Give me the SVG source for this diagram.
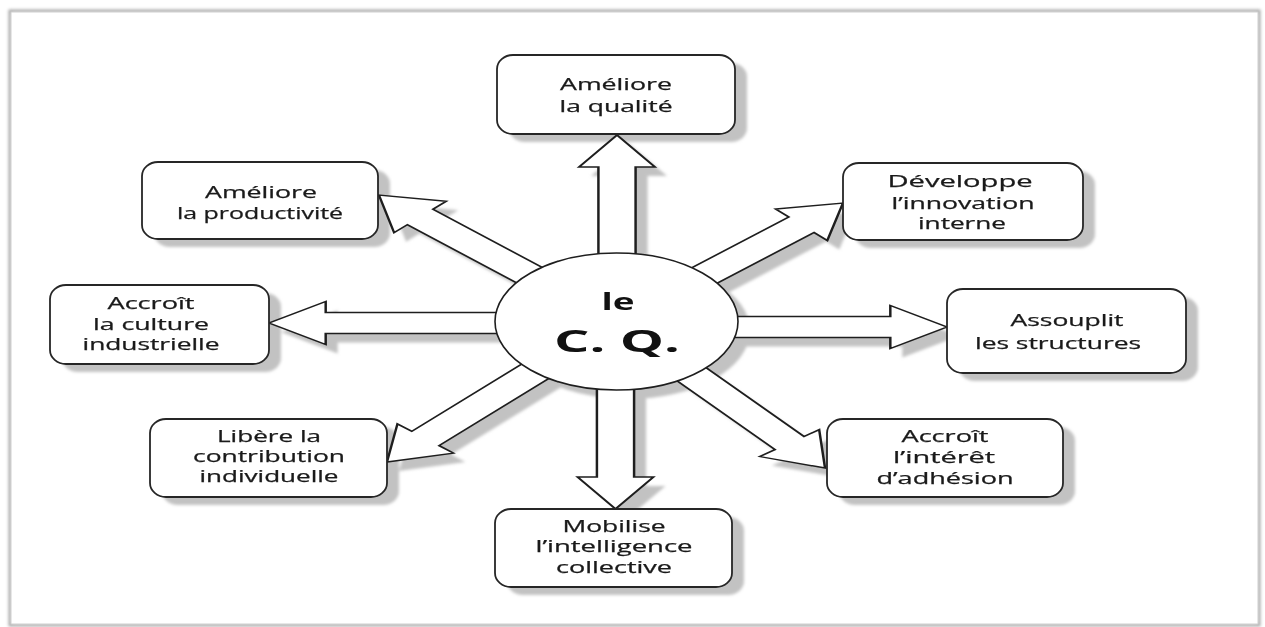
<svg xmlns="http://www.w3.org/2000/svg" width="1265" height="627" viewBox="0 0 1265 627">
  <defs>
    <filter id="soft" x="-5%" y="-5%" width="110%" height="110%">
      <feGaussianBlur stdDeviation="1.6"/>
    </filter>
    <filter id="pageEdge" x="-2%" y="-2%" width="104%" height="104%">
      <feGaussianBlur stdDeviation="1.8"/>
    </filter>
    <!-- arrow outlines in local, unstretched units: shaft half-width 10.5, head half-width 21.5, head length 32 -->
    <polygon id="a-e" points="0,-10.5 154.7,-10.5 154.7,-21.5 186.7,0 154.7,21.5 154.7,10.5 0,10.5"/>
    <polygon id="a-w" points="0,-10.5 164.3,-10.5 164.3,-21.5 196.3,0 164.3,21.5 164.3,10.5 0,10.5"/>
    <polygon id="a-n" points="0,-10.5 154.5,-10.5 154.5,-21.5 186.5,0 154.5,21.5 154.5,10.5 0,10.5"/>
    <polygon id="a-s" points="0,-10.5 155.5,-10.5 155.5,-21.5 187.5,0 155.5,21.5 155.5,10.5 0,10.5"/>
    <polygon id="a-nw" points="0,-10.5 152.4,-10.5 152.4,-21.5 184.4,0 152.4,21.5 152.4,10.5 0,10.5"/>
    <polygon id="a-ne" points="0,-10.5 142.4,-10.5 142.4,-21.5 174.4,0 142.4,21.5 142.4,10.5 0,10.5"/>
    <polygon id="a-sw" points="0,-10.5 159.2,-10.5 159.2,-21.5 191.2,0 159.2,21.5 159.2,10.5 0,10.5"/>
    <polygon id="a-se" points="0,-10.5 156,-10.5 156,-21.5 188,0 156,21.5 156,10.5 0,10.5"/>
  </defs>
  <style>
    .box { fill: #ffffff; stroke: #262626; stroke-width: 1.8; }
    .shade { fill: #c2c2c2; }
    .arrow { fill: #ffffff; stroke: #1e1e1e; stroke-width: 1.4; vector-effect: non-scaling-stroke; stroke-linejoin: miter; }
    .lbl { font-family: "Open Sans", "Liberation Sans", sans-serif; font-size: 16px; font-weight: 500; fill: #1a1a1a; stroke: #1a1a1a; stroke-width: 0.25; text-anchor: middle; }
    .hub { font-family: "Open Sans", "Liberation Sans", sans-serif; font-weight: bold; fill: #111111; text-anchor: middle; }
  </style>

  <!-- page -->
  <rect x="0" y="0" width="1265" height="627" fill="#ffffff"/>
  <rect x="10" y="11" width="1249" height="614" fill="none" stroke="#a8a8a8" stroke-width="3" filter="url(#pageEdge)"/>
  <rect x="11" y="12" width="1247" height="612" fill="#ffffff" stroke="#cfcfcf" stroke-width="1"/>

  <!-- drop shadows -->
  <g id="shadows" class="shade" filter="url(#soft)">
    <use href="#a-e" transform="translate(628.5 336) scale(1.77 1)"/>
    <use href="#a-w" transform="translate(628.5 332) scale(1.77 1) rotate(180)"/>
    <use href="#a-n" transform="translate(629 330.5) scale(1.77 1) rotate(-90)"/>
    <use href="#a-s" transform="translate(627.5 330.5) scale(1.77 1) rotate(90)"/>
    <use href="#a-nw" transform="translate(628.5 330.5) scale(1.77 1) rotate(-136.7)"/>
    <use href="#a-ne" transform="translate(628.5 330.5) scale(1.77 1) rotate(-42.8)"/>
    <use href="#a-sw" transform="translate(628.5 330.5) scale(1.77 1) rotate(132.7)"/>
    <use href="#a-se" transform="translate(628.5 330.5) scale(1.77 1) rotate(51.2)"/>
    <ellipse cx="628.5" cy="330.5" rx="121.5" ry="68.5"/>
    <rect x="509" y="63" width="238" height="79" rx="16" ry="14"/>
    <rect x="154" y="170" width="236" height="77" rx="16" ry="14"/>
    <rect x="855" y="171" width="240" height="77" rx="16" ry="14"/>
    <rect x="62" y="293" width="219" height="79" rx="16" ry="14"/>
    <rect x="959" y="297" width="239" height="84" rx="16" ry="14"/>
    <rect x="162" y="427" width="237" height="78" rx="16" ry="14"/>
    <rect x="839" y="427" width="236" height="78" rx="16" ry="14"/>
    <rect x="507" y="517" width="237" height="78" rx="16" ry="14"/>
  </g>

  <!-- connectors: broad hollow arrows radiating from the hub -->
  <g id="connectors" class="arrow">
    <use href="#a-e" transform="translate(616.5 327) scale(1.77 1)"/>
    <use href="#a-w" transform="translate(616.5 323) scale(1.77 1) rotate(180)"/>
    <use href="#a-n" transform="translate(617 321.5) scale(1.77 1) rotate(-90)"/>
    <use href="#a-s" transform="translate(615.5 321.5) scale(1.77 1) rotate(90)"/>
    <use href="#a-nw" transform="translate(616.5 321.5) scale(1.77 1) rotate(-136.7)"/>
    <use href="#a-ne" transform="translate(616.5 321.5) scale(1.77 1) rotate(-42.8)"/>
    <use href="#a-sw" transform="translate(616.5 321.5) scale(1.77 1) rotate(132.7)"/>
    <use href="#a-se" transform="translate(616.5 321.5) scale(1.77 1) rotate(51.2)"/>
  </g>

  <!-- hub -->
  <g id="hub">
    <ellipse cx="616.5" cy="321.5" rx="121.5" ry="68.5" fill="#ffffff" stroke="#1e1e1e" stroke-width="1.6"/>
    <text class="hub" x="618" y="310" font-size="24" textLength="33" lengthAdjust="spacingAndGlyphs">le</text>
    <text class="hub" x="617" y="352" font-size="30" textLength="126" lengthAdjust="spacingAndGlyphs">C. Q.</text>
  </g>

  <g id="n-qualite">
    <rect class="box" x="497" y="55" width="238" height="79" rx="16" ry="14"/>
    <text class="lbl" x="616" y="90" textLength="112" lengthAdjust="spacingAndGlyphs">Améliore</text>
    <text class="lbl" x="616" y="112" textLength="113" lengthAdjust="spacingAndGlyphs">la qualité</text>
  </g>

  <g id="n-productivite">
    <rect class="box" x="142" y="162" width="236" height="77" rx="16" ry="14"/>
    <text class="lbl" x="261" y="198" textLength="112" lengthAdjust="spacingAndGlyphs">Améliore</text>
    <text class="lbl" x="260" y="219" textLength="166" lengthAdjust="spacingAndGlyphs">la productivité</text>
  </g>

  <g id="n-innovation">
    <rect class="box" x="843" y="163" width="240" height="77" rx="16" ry="14"/>
    <text class="lbl" x="960" y="187" textLength="145" lengthAdjust="spacingAndGlyphs">Développe</text>
    <text class="lbl" x="963" y="209" textLength="143" lengthAdjust="spacingAndGlyphs">l’innovation</text>
    <text class="lbl" x="962" y="229" textLength="88" lengthAdjust="spacingAndGlyphs">interne</text>
  </g>

  <g id="n-culture">
    <rect class="box" x="50" y="285" width="219" height="79" rx="16" ry="14"/>
    <text class="lbl" x="151" y="309" textLength="87" lengthAdjust="spacingAndGlyphs">Accroît</text>
    <text class="lbl" x="151" y="330" textLength="116" lengthAdjust="spacingAndGlyphs">la culture</text>
    <text class="lbl" x="151" y="350" textLength="137" lengthAdjust="spacingAndGlyphs">industrielle</text>
  </g>

  <g id="n-structures">
    <rect class="box" x="947" y="289" width="239" height="84" rx="16" ry="14"/>
    <text class="lbl" x="1067" y="326" textLength="113" lengthAdjust="spacingAndGlyphs">Assouplit</text>
    <text class="lbl" x="1058" y="349" textLength="166" lengthAdjust="spacingAndGlyphs">les structures</text>
  </g>

  <g id="n-contribution">
    <rect class="box" x="150" y="419" width="237" height="78" rx="16" ry="14"/>
    <text class="lbl" x="269" y="442" textLength="104" lengthAdjust="spacingAndGlyphs">Libère la</text>
    <text class="lbl" x="269" y="462" textLength="152" lengthAdjust="spacingAndGlyphs">contribution</text>
    <text class="lbl" x="269" y="482" textLength="139" lengthAdjust="spacingAndGlyphs">individuelle</text>
  </g>

  <g id="n-adhesion">
    <rect class="box" x="827" y="419" width="236" height="78" rx="16" ry="14"/>
    <text class="lbl" x="945" y="442" textLength="87" lengthAdjust="spacingAndGlyphs">Accroît</text>
    <text class="lbl" x="944" y="463" textLength="102" lengthAdjust="spacingAndGlyphs">l’intérêt</text>
    <text class="lbl" x="945" y="484" textLength="137" lengthAdjust="spacingAndGlyphs">d’adhésion</text>
  </g>

  <g id="n-intelligence">
    <rect class="box" x="495" y="509" width="237" height="78" rx="16" ry="14"/>
    <text class="lbl" x="614" y="532" textLength="103" lengthAdjust="spacingAndGlyphs">Mobilise</text>
    <text class="lbl" x="614" y="552" textLength="157" lengthAdjust="spacingAndGlyphs">l’intelligence</text>
    <text class="lbl" x="614" y="573" textLength="116" lengthAdjust="spacingAndGlyphs">collective</text>
  </g>
</svg>
